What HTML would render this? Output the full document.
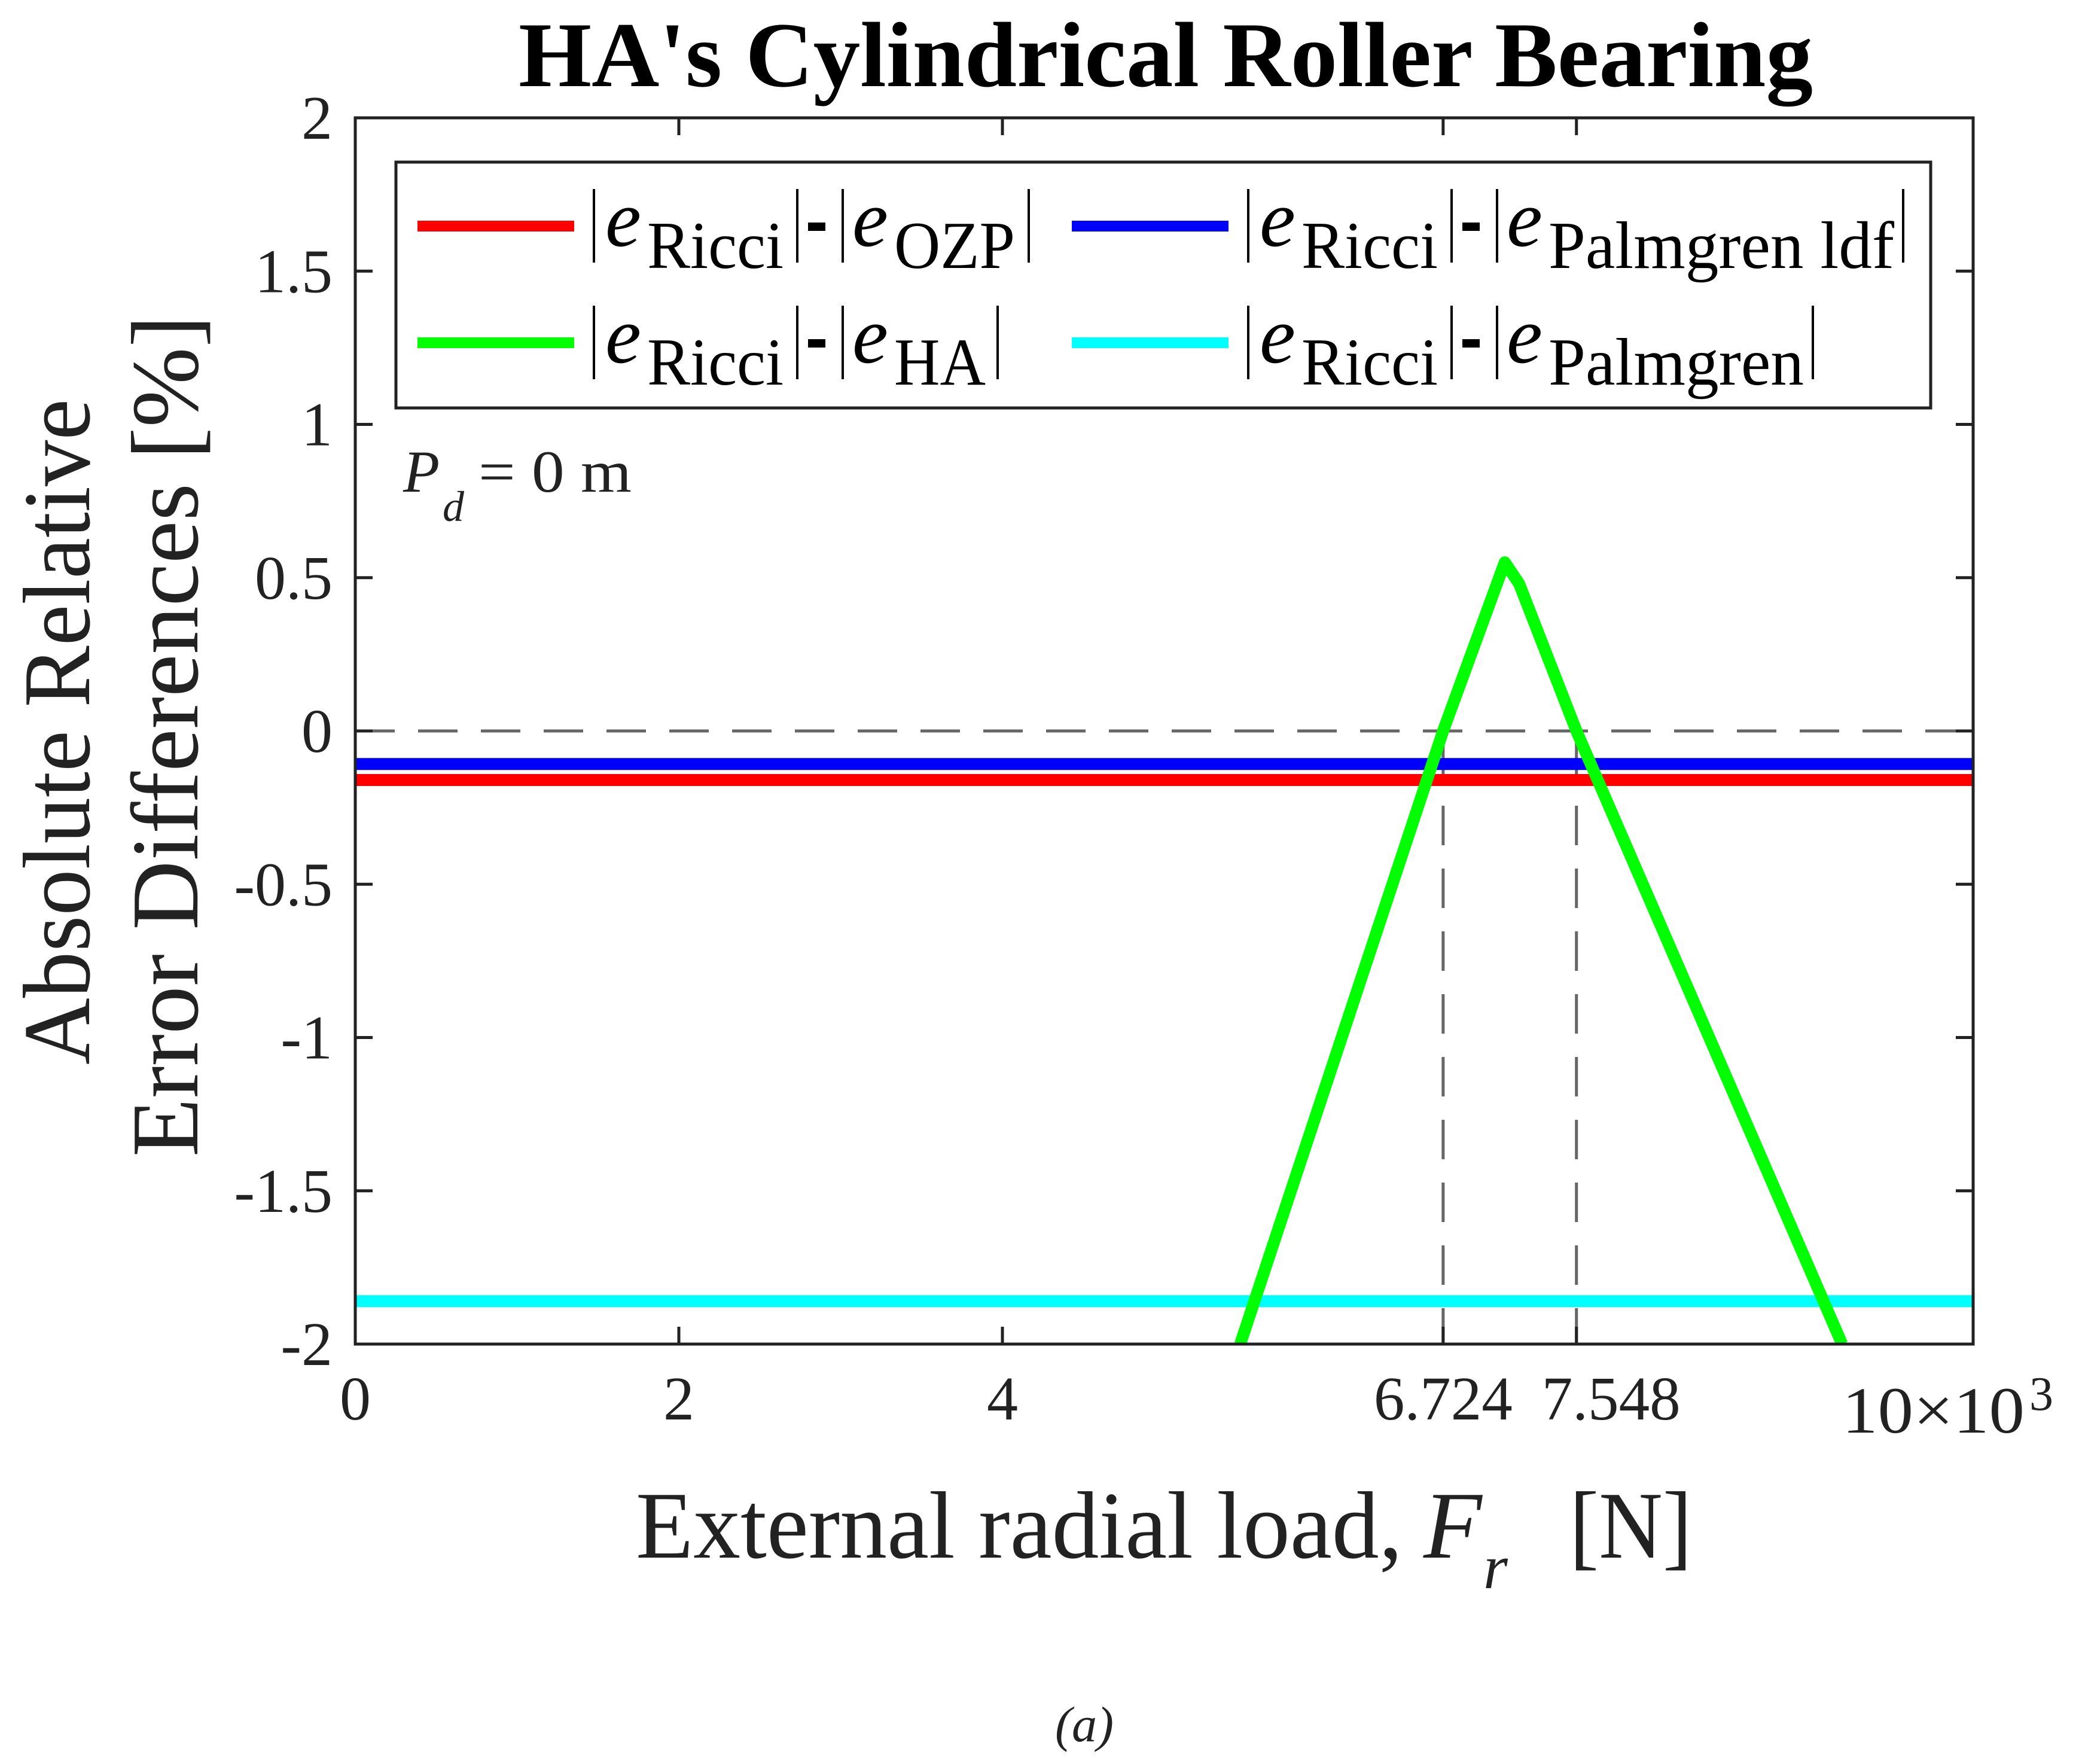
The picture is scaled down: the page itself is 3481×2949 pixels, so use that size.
<!DOCTYPE html>
<html><head><meta charset="utf-8"><style>
html,body{margin:0;padding:0;background:#fff;}
svg{display:block;}
text{font-family:"Liberation Serif","DejaVu Serif",serif;fill:#222;}
</style></head>
<body>
<svg id="chart" width="3481" height="2949" viewBox="0 0 3481 2949" xmlns="http://www.w3.org/2000/svg">
<rect x="0" y="0" width="3481" height="2949" fill="#fff"/>
<text x="867" y="144" font-size="155" font-weight="bold" fill="#000" style="fill:#000" textLength="2164" lengthAdjust="spacingAndGlyphs">HA's Cylindrical Roller Bearing</text>
<g id="plot"></g>
<g id="legend">
  <rect x="662" y="271" width="2566" height="411" fill="#fff" stroke="#222" stroke-width="5"/>
</g>
<g>
  <text x="674" y="822" font-size="100" font-style="italic">P</text>
  <text x="740" y="871" font-size="72" font-style="italic">d</text>
  <text x="800" y="822" font-size="100" textLength="256" lengthAdjust="spacingAndGlyphs">= 0 m</text>
</g>
<g>
  <text transform="translate(149,1780) rotate(-90)" font-size="160" textLength="1113" lengthAdjust="spacingAndGlyphs">Absolute Relative</text>
  <text transform="translate(330,1934) rotate(-90)" font-size="160" textLength="1407" lengthAdjust="spacingAndGlyphs">Error Differences  [%]</text>
</g>
<g>
  <text x="1063" y="2604" font-size="160" textLength="1282" lengthAdjust="spacingAndGlyphs">External radial load,</text>
  <text x="2380" y="2604" font-size="160" font-style="italic">F</text>
  <text x="2480" y="2655" font-size="105" font-style="italic">r</text>
  <text x="2624" y="2604" font-size="160" textLength="205" lengthAdjust="spacingAndGlyphs">[N]</text>
</g>
<g>
  <text x="3080" y="2395" font-size="110" textLength="305" lengthAdjust="spacingAndGlyphs">10×10</text>
  <text x="3393" y="2357" font-size="80">3</text>
</g>
<text x="1813" y="2911" font-size="84" font-style="italic" text-anchor="middle">(a)</text>
</svg>
<script>
// ---- data ----
const xDomain = [0, 10000];
const yDomain = [-2, 2];
const xTickValues = [0, 2000, 4000, 6724, 7548, 10000];
const xTickLabels = ["0", "2", "4", "6.724", "7.548", ""];
const yTickValues = [2, 1.5, 1, 0.5, 0, -0.5, -1, -1.5, -2];
const yTickLabels = ["2", "1.5", "1", "0.5", "0", "-0.5", "-1", "-1.5", "-2"];
const constX = [0, 10000];
const ozpValues = [-0.16, -0.16];
const ldfValues = [-0.108, -0.108];
const palmValues = [-1.86, -1.86];
const haX = [5470, 6724, 7105, 7194, 7548, 9190];
const haY = [-2, 0, 0.55, 0.48, 0, -2];
const crossX = [6724, 7548];

// ---- axes ----
const L = 594, R = 3299, T = 197, B = 2247;
const sx = v => L + (v - xDomain[0]) / (xDomain[1] - xDomain[0]) * (R - L);
const sy = v => B - (v - yDomain[0]) / (yDomain[1] - yDomain[0]) * (B - T);
const NS = "http://www.w3.org/2000/svg";
const plot = document.getElementById('plot');
function mk(tag, attrs, parent) {
  const e = document.createElementNS(NS, tag);
  for (const k in attrs) e.setAttribute(k, attrs[k]);
  (parent || plot).appendChild(e);
  return e;
}
const defs = mk('defs', {});
const cp = mk('clipPath', {id: 'clip'}, defs);
mk('rect', {x: L, y: T, width: R - L, height: B - T}, cp);

const zl = mk('line', {x1: L, x2: R, y1: sy(0), y2: sy(0), stroke: '#666', 'stroke-width': 5, 'stroke-dasharray': '66 39'});


crossX.forEach((cx, i) => {
  const l = mk('line', {x1: sx(cx), x2: sx(cx), y1: sy(0) + 20, y2: B, stroke: '#666', 'stroke-width': 5, 'stroke-dasharray': '66 39'});
  
  
});

function series(xs, ys, color, name) {
  const d = xs.map((x, i) => (i ? 'L' : 'M') + sx(x).toFixed(1) + ' ' + sy(ys[i]).toFixed(1)).join(' ');
  const p = mk('path', {d: d, fill: 'none', stroke: color, 'stroke-width': 20, 'stroke-linejoin': 'round', 'clip-path': 'url(#clip)'});
  
  
}
series(constX, palmValues, '#00ffff', 'series-palmgren');
series(constX, ozpValues, '#ff0000', 'series-ozp');
series(constX, ldfValues, '#0000ff', 'series-palmgren-ldf');
series(haX, haY, '#00ff00', 'series-ha');

const fr = mk('rect', {x: L, y: T, width: R - L, height: B - T, fill: 'none', stroke: '#222', 'stroke-width': 5});



yTickValues.forEach((v, i) => {
  const y = sy(v);
  mk('line', {x1: L, x2: L + 29, y1: y, y2: y, stroke: '#222', 'stroke-width': 5});
  mk('line', {x1: R, x2: R - 29, y1: y, y2: y, stroke: '#222', 'stroke-width': 5});
  const t = mk('text', {x: 556, y: y + 35, 'font-size': 104, 'text-anchor': 'end'});
  t.textContent = yTickLabels[i];
  
  
});
xTickValues.forEach((v, i) => {
  const x = sx(v);
  mk('line', {x1: x, x2: x, y1: B, y2: B - 29, stroke: '#222', 'stroke-width': 5});
  mk('line', {x1: x, x2: x, y1: T, y2: T + 29, stroke: '#222', 'stroke-width': 5});
  if (xTickLabels[i]) {
    const lbl = xTickLabels[i];
    const attrs = {x: x, y: 2373, 'font-size': 104, 'text-anchor': 'middle'};
    if (lbl.length > 1) { attrs.textLength = 232; attrs.lengthAdjust = 'spacingAndGlyphs'; }
    if (i === xTickLabels.length - 2) attrs.x = x + 58; // label nudged right as in the reference
    const t = mk('text', attrs);
    t.textContent = lbl;
    
    
  }
});

const lg = document.getElementById('legend');
const entries = [
  {color: '#ff0000', sub: 'OZP', dx: 0, dy: 0, subLen: 202, lastBar: 1720},
  {color: '#00ff00', sub: 'HA', dx: 0, dy: 195, subLen: 153, lastBar: 1668},
  {color: '#0000ff', sub: 'Palmgren ldf', dx: 1094, dy: 0, subLen: 578, lastBar: 3182 - 1094},
  {color: '#00ffff', sub: 'Palmgren', dx: 1094, dy: 195, subLen: 427, lastBar: 3031 - 1094}
];
entries.forEach((en, k) => {
  const g = mk('g', {transform: 'translate(' + en.dx + ',' + en.dy + ')'}, lg);
  
  
  mk('line', {x1: 698, x2: 960, y1: 378, y2: 378, stroke: en.color, 'stroke-width': 18}, g);
  [993, 1333, 1409, en.lastBar].forEach(bx => mk('line', {x1: bx, x2: bx, y1: 316, y2: 439, stroke: '#000', 'stroke-width': 4}, g));
  mk('rect', {x: 1351, y: 372, width: 29, height: 14, fill: '#000'}, g);
  const e1 = mk('text', {x: 1012, y: 411, 'font-size': 135, 'font-style': 'italic', style: 'fill:#000'}, g); e1.textContent = 'e';
  const s1 = mk('text', {x: 1082, y: 448, 'font-size': 112, textLength: 228, lengthAdjust: 'spacingAndGlyphs', style: 'fill:#000'}, g); s1.textContent = 'Ricci';
  const e2 = mk('text', {x: 1425, y: 411, 'font-size': 135, 'font-style': 'italic', style: 'fill:#000'}, g); e2.textContent = 'e';
  const s2 = mk('text', {x: 1495, y: 448, 'font-size': 112, textLength: en.subLen, lengthAdjust: 'spacingAndGlyphs', style: 'fill:#000'}, g); s2.textContent = en.sub;
});
</script>
</body></html>
